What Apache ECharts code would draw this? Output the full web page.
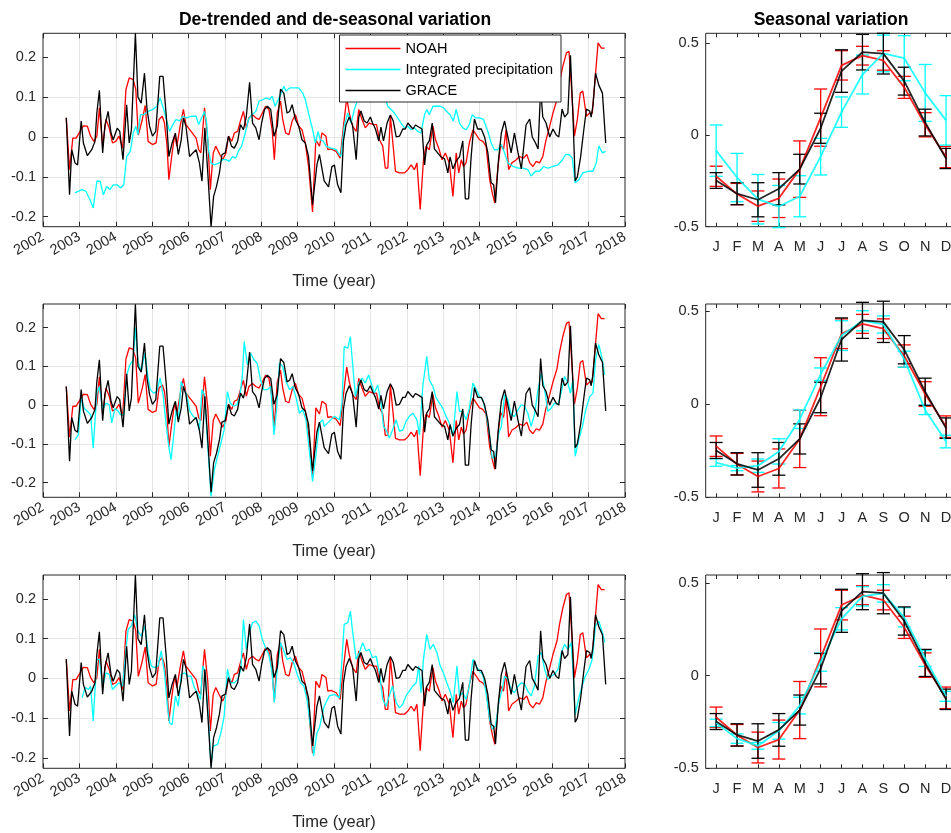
<!DOCTYPE html>
<html>
<head>
<meta charset="utf-8">
<script src="https://cdn.jsdelivr.net/npm/echarts@6/dist/echarts.min.js"></script>
<style>
  html, body { margin: 0; padding: 0; background: #fff; }
  #chart { width: 951px; height: 833px; }
</style>
</head>
<body>
<div id="chart"></div>
<script>
// ---- Time series (decimal year, anomaly) ----
const yearTicks = [2002, 2003, 2004, 2005, 2006, 2007, 2008, 2009, 2010, 2011, 2012, 2013, 2014, 2015, 2016, 2017, 2018];

const graceSeries = [
  [2002.64,0.048],[2002.73,-0.145],[2002.79,-0.032],[2002.88,-0.065],[2002.95,-0.07],[2003.05,0.04],[2003.11,-0.015],
  [2003.22,-0.047],[2003.34,-0.032],[2003.43,-0.011],[2003.48,0.06],[2003.55,0.117],[2003.64,-0.04],[2003.70,0.027],
  [2003.79,0.064],[2003.87,0.01],[2003.93,-0.007],[2004.04,0.022],[2004.11,0.014],[2004.20,-0.057],[2004.30,0.081],
  [2004.37,-0.015],[2004.43,0.018],[2004.54,0.26],[2004.61,0.10],[2004.70,0.085],[2004.79,0.16],[2004.86,0.069],
  [2004.93,0.027],[2005.01,0.002],[2005.10,0.014],[2005.21,0.152],[2005.30,0.152],[2005.39,0.052],[2005.46,-0.049],
  [2005.55,-0.015],[2005.64,0.01],[2005.72,-0.044],[2005.80,-0.007],[2005.86,0.048],[2005.93,0.027],[2006.03,-0.049],
  [2006.12,-0.04],[2006.21,-0.032],[2006.30,-0.065],[2006.37,-0.111],[2006.45,0.023],[2006.53,-0.09],[2006.62,-0.225],
  [2006.69,-0.149],[2006.77,-0.124],[2006.85,-0.09],[2006.92,-0.044],[2007.01,-0.04],[2007.10,0.002],[2007.18,-0.023],
  [2007.26,-0.028],[2007.35,-0.011],[2007.43,0.031],[2007.51,0.018],[2007.59,0.052],[2007.68,0.137],[2007.76,0.035],
  [2007.85,0.023],[2007.94,-0.007],[2008.01,0.035],[2008.09,0.069],[2008.17,0.077],[2008.26,0.069],[2008.35,0.002],
  [2008.44,0.027],[2008.53,0.12],[2008.62,0.11],[2008.71,0.06],[2008.78,0.064],[2008.85,0.081],[2008.94,0.044],
  [2009.03,0.027],[2009.12,-0.007],[2009.21,-0.015],[2009.30,-0.049],[2009.41,-0.17],[2009.53,-0.07],[2009.60,-0.044],
  [2009.73,-0.11],[2009.85,-0.125],[2009.94,-0.075],[2010.01,-0.07],[2010.10,-0.12],[2010.19,-0.14],[2010.26,-0.01],
  [2010.33,0.03],[2010.42,0.05],[2010.51,0.03],[2010.61,-0.057],[2010.68,0.05],[2010.74,0.065],[2010.83,0.04],
  [2010.91,0.035],[2011.00,0.05],[2011.06,0.035],[2011.14,0.02],[2011.23,-0.01],[2011.29,0.025],[2011.36,-0.01],
  [2011.46,0.035],[2011.55,0.055],[2011.63,0.04],[2011.71,0.0],[2011.80,0.002],[2011.89,0.02],[2011.96,0.02],
  [2012.03,0.035],[2012.07,0.03],[2012.17,0.02],[2012.24,0.03],[2012.33,0.025],[2012.42,0.02],[2012.49,-0.07],
  [2012.55,-0.02],[2012.62,-0.01],[2012.70,0.035],[2012.76,-0.03],[2012.85,-0.04],[2012.94,-0.05],[2013.04,-0.055],
  [2013.13,-0.09],[2013.19,-0.05],[2013.27,-0.08],[2013.36,-0.06],[2013.45,-0.05],[2013.54,-0.01],[2013.61,-0.155],
  [2013.70,-0.155],[2013.77,-0.05],[2013.86,0.045],[2013.95,0.02],[2014.05,0.02],[2014.14,0.0],[2014.23,-0.04],
  [2014.32,-0.115],[2014.39,-0.12],[2014.44,-0.165],[2014.52,-0.06],[2014.60,0.01],[2014.69,0.04],[2014.78,0.0],
  [2014.87,-0.04],[2014.96,0.01],[2015.06,-0.04],[2015.15,-0.08],[2015.21,-0.03],[2015.28,0.03],[2015.38,0.045],
  [2015.45,0.0],[2015.54,-0.015],[2015.61,-0.03],[2015.68,0.12],[2015.74,0.05],[2015.83,0.035],[2015.93,0.0],
  [2016.02,0.02],[2016.11,0.005],[2016.18,0.0],[2016.27,0.07],[2016.34,0.05],[2016.43,0.06],[2016.50,0.205],
  [2016.57,0.05],[2016.63,-0.11],[2016.69,-0.1],[2016.78,-0.05],[2016.87,0.02],[2016.94,0.07],[2017.03,0.065],
  [2017.07,0.05],[2017.12,0.08],[2017.19,0.16],[2017.28,0.13],[2017.38,0.11],[2017.47,-0.015]
];

const noahSeries = [
  [2002.64,0.048],[2002.73,-0.082],[2002.82,-0.003],[2002.91,-0.003],[2003.02,0.014],[2003.11,0.028],[2003.22,0.027],
  [2003.31,0.002],[2003.40,-0.011],[2003.48,0.002],[2003.55,0.073],[2003.64,-0.023],[2003.73,0.044],[2003.82,0.023],
  [2003.91,-0.015],[2004.00,-0.011],[2004.09,0.002],[2004.19,-0.028],[2004.28,0.119],[2004.37,0.148],[2004.48,0.144],
  [2004.55,0.12],[2004.62,0.005],[2004.72,0.04],[2004.81,0.079],[2004.89,-0.011],[2005.01,-0.019],[2005.11,-0.015],
  [2005.19,0.044],[2005.28,0.052],[2005.34,0.035],[2005.41,-0.023],[2005.46,-0.107],[2005.55,-0.04],[2005.62,0.006],
  [2005.68,-0.023],[2005.77,0.027],[2005.86,0.069],[2005.93,0.031],[2006.07,0.014],[2006.21,-0.003],[2006.28,-0.032],
  [2006.34,-0.04],[2006.44,0.073],[2006.53,-0.007],[2006.60,-0.132],[2006.68,-0.04],[2006.75,-0.023],[2006.86,-0.044],
  [2006.94,-0.057],[2007.03,-0.04],[2007.10,0.002],[2007.19,-0.011],[2007.26,0.01],[2007.35,0.014],[2007.44,0.044],
  [2007.51,0.064],[2007.59,0.023],[2007.66,0.048],[2007.76,0.056],[2007.85,0.048],[2007.94,0.044],[2008.03,0.06],
  [2008.12,0.077],[2008.21,0.069],[2008.30,0.018],[2008.36,-0.057],[2008.44,0.06],[2008.53,0.09],[2008.59,0.044],
  [2008.67,0.01],[2008.76,0.006],[2008.85,0.04],[2008.94,0.056],[2009.03,0.027],[2009.12,0.018],[2009.21,-0.015],
  [2009.30,-0.074],[2009.41,-0.188],[2009.50,-0.007],[2009.60,-0.023],[2009.67,0.01],[2009.78,0.002],[2009.83,-0.032],
  [2009.92,-0.03],[2010.06,-0.036],[2010.17,-0.053],[2010.26,0.027],[2010.35,0.098],[2010.42,0.06],[2010.51,0.027],
  [2010.61,0.014],[2010.68,0.069],[2010.77,0.044],[2010.86,0.023],[2010.97,0.035],[2011.08,0.031],[2011.17,0.031],
  [2011.25,-0.007],[2011.34,-0.023],[2011.41,-0.078],[2011.48,-0.078],[2011.55,0.052],[2011.61,-0.007],[2011.69,-0.086],
  [2011.80,-0.09],[2011.94,-0.09],[2012.03,-0.082],[2012.12,-0.07],[2012.21,-0.082],[2012.28,-0.065],[2012.37,-0.182],
  [2012.46,-0.057],[2012.53,-0.023],[2012.62,-0.032],[2012.72,0.027],[2012.79,-0.007],[2012.88,-0.028],[2012.97,-0.057],
  [2013.06,-0.04],[2013.17,-0.065],[2013.27,-0.149],[2013.36,-0.04],[2013.43,-0.09],[2013.50,-0.057],[2013.56,-0.074],
  [2013.63,-0.065],[2013.72,-0.015],[2013.82,0.018],[2013.91,0.006],[2014.00,-0.007],[2014.09,-0.011],[2014.18,-0.023],
  [2014.28,-0.107],[2014.35,-0.14],[2014.42,-0.166],[2014.50,-0.082],[2014.58,-0.019],[2014.66,-0.032],[2014.73,0.018],
  [2014.80,-0.082],[2014.89,-0.065],[2015.01,-0.057],[2015.10,-0.049],[2015.21,-0.053],[2015.30,-0.044],[2015.38,-0.065],
  [2015.47,-0.074],[2015.56,-0.061],[2015.65,-0.065],[2015.74,-0.049],[2015.82,-0.011],[2015.93,0.027],[2016.02,0.06],
  [2016.13,0.094],[2016.20,0.136],[2016.29,0.177],[2016.39,0.211],[2016.46,0.215],[2016.52,0.136],[2016.61,0.002],
  [2016.69,0.044],[2016.77,0.11],[2016.84,0.115],[2016.94,0.052],[2017.03,0.06],[2017.10,0.06],[2017.17,0.136],
  [2017.26,0.236],[2017.35,0.223],[2017.44,0.223]
];

const precipSeries1 = [
  [2002.88,-0.14],[2003.07,-0.132],[2003.18,-0.136],[2003.29,-0.157],[2003.38,-0.178],[2003.48,-0.111],[2003.57,-0.111],
  [2003.66,-0.145],[2003.75,-0.124],[2003.84,-0.132],[2003.93,-0.12],[2004.04,-0.12],[2004.13,-0.128],[2004.22,-0.12],
  [2004.30,-0.049],[2004.40,-0.036],[2004.48,0.01],[2004.55,0.027],[2004.61,0.006],[2004.68,0.056],[2004.77,0.056],
  [2004.89,0.064],[2005.02,0.069],[2005.13,0.077],[2005.22,0.098],[2005.32,0.069],[2005.39,0.044],[2005.48,0.014],
  [2005.57,0.031],[2005.66,0.044],[2005.75,0.04],[2005.84,0.052],[2005.95,0.048],[2006.07,0.052],[2006.21,0.052],
  [2006.28,0.031],[2006.34,0.044],[2006.44,0.064],[2006.50,0.035],[2006.55,-0.032],[2006.62,-0.065],[2006.71,-0.07],
  [2006.85,-0.065],[2006.94,-0.057],[2007.03,-0.057],[2007.12,-0.061],[2007.21,-0.049],[2007.30,-0.053],[2007.37,-0.036],
  [2007.46,-0.023],[2007.56,0.01],[2007.65,0.044],[2007.74,0.056],[2007.85,0.064],[2007.94,0.09],[2008.05,0.094],
  [2008.14,0.098],[2008.23,0.094],[2008.30,0.102],[2008.38,0.077],[2008.47,0.094],[2008.53,0.106],[2008.62,0.127],
  [2008.68,0.115],[2008.78,0.123],[2008.89,0.123],[2009.03,0.123],[2009.14,0.11],[2009.21,0.094],[2009.30,0.06],
  [2009.40,0.023],[2009.49,-0.015],[2009.56,0.014],[2009.62,-0.007],[2009.71,-0.011],[2009.78,-0.023],[2009.92,-0.028],
  [2010.06,-0.032],[2010.19,-0.049],[2010.28,0.027],[2010.38,0.06],[2010.47,0.035],[2010.56,0.069],[2010.65,0.094],
  [2010.74,0.11],[2010.83,0.115],[2010.93,0.11],[2011.02,0.106],[2011.11,0.115],[2011.20,0.126],[2011.29,0.098],
  [2011.39,0.102],[2011.48,0.077],[2011.57,0.069],[2011.66,0.06],[2011.75,0.048],[2011.84,0.035],[2011.94,0.023],
  [2012.03,0.027],[2012.12,0.018],[2012.21,0.023],[2012.30,0.014],[2012.39,0.01],[2012.49,0.056],[2012.55,0.069],
  [2012.62,0.056],[2012.72,0.077],[2012.81,0.077],[2012.92,0.077],[2013.01,0.073],[2013.10,0.064],[2013.19,0.056],
  [2013.28,0.04],[2013.36,0.069],[2013.45,0.035],[2013.54,0.023],[2013.63,0.018],[2013.72,0.031],[2013.80,0.056],
  [2013.89,0.048],[2014.00,0.048],[2014.11,0.044],[2014.23,0.014],[2014.32,-0.015],[2014.41,-0.032],[2014.50,-0.032],
  [2014.60,-0.019],[2014.69,-0.04],[2014.78,-0.065],[2014.92,-0.074],[2015.06,-0.078],[2015.19,-0.078],[2015.33,-0.082],
  [2015.42,-0.098],[2015.54,-0.086],[2015.65,-0.086],[2015.76,-0.074],[2015.88,-0.078],[2016.02,-0.074],[2016.16,-0.07],
  [2016.28,-0.057],[2016.37,-0.044],[2016.46,-0.044],[2016.55,-0.053],[2016.63,-0.115],[2016.73,-0.107],[2016.84,-0.09],
  [2016.98,-0.086],[2017.12,-0.086],[2017.21,-0.065],[2017.28,-0.023],[2017.38,-0.04],[2017.47,-0.036]
];

const precipSeries2 = [
  [2002.88,-0.089],[2002.97,-0.077],[2003.05,0.018],[2003.13,-0.008],[2003.22,-0.016],[2003.31,-0.025],[2003.38,-0.111],
  [2003.48,0.031],[2003.55,0.048],[2003.64,-0.012],[2003.73,0.005],[2003.82,0.001],[2003.89,-0.046],[2003.98,-0.008],
  [2004.07,-0.016],[2004.13,-0.025],[2004.22,-0.025],[2004.30,0.078],[2004.39,0.104],[2004.48,0.117],[2004.54,0.2],
  [2004.61,0.113],[2004.70,0.087],[2004.80,0.134],[2004.89,0.07],[2004.95,0.04],[2005.04,0.031],[2005.13,0.035],
  [2005.22,0.07],[2005.30,0.027],[2005.39,-0.055],[2005.46,-0.107],[2005.52,-0.141],[2005.59,-0.081],[2005.66,-0.012],
  [2005.72,-0.038],[2005.80,0.061],[2005.87,0.044],[2005.95,0.027],[2006.04,-0.016],[2006.13,-0.029],[2006.23,-0.038],
  [2006.30,-0.064],[2006.37,0.04],[2006.44,0.027],[2006.53,-0.107],[2006.62,-0.236],[2006.71,-0.167],[2006.80,-0.132],
  [2006.89,-0.098],[2006.98,-0.064],[2007.07,0.035],[2007.15,0.005],[2007.24,-0.003],[2007.33,0.001],[2007.41,0.022],
  [2007.48,0.074],[2007.53,0.164],[2007.62,0.104],[2007.71,0.134],[2007.80,0.117],[2007.89,0.108],[2007.98,0.065],
  [2008.07,0.04],[2008.17,0.04],[2008.26,0.048],[2008.35,-0.077],[2008.42,-0.012],[2008.50,0.108],[2008.59,0.1],
  [2008.68,0.061],[2008.78,0.04],[2008.87,0.048],[2008.96,0.018],[2009.05,-0.021],[2009.14,-0.012],[2009.23,-0.038],
  [2009.32,-0.115],[2009.41,-0.197],[2009.50,-0.132],[2009.60,-0.046],[2009.69,-0.038],[2009.73,-0.055],[2009.87,-0.042],
  [2010.01,-0.029],[2010.15,-0.038],[2010.22,0.005],[2010.28,0.151],[2010.38,0.147],[2010.45,0.177],[2010.51,0.108],
  [2010.59,0.022],[2010.68,0.057],[2010.77,0.07],[2010.86,0.057],[2010.95,0.078],[2011.02,0.057],[2011.11,0.031],
  [2011.20,0.052],[2011.29,0.009],[2011.36,-0.055],[2011.43,-0.064],[2011.52,-0.085],[2011.61,-0.064],[2011.71,-0.038],
  [2011.80,-0.068],[2011.89,-0.064],[2011.98,-0.042],[2012.07,-0.029],[2012.17,-0.021],[2012.28,-0.038],[2012.35,-0.077],
  [2012.44,0.048],[2012.55,0.126],[2012.62,0.065],[2012.72,0.048],[2012.81,0.018],[2012.90,0.005],[2012.99,-0.008],
  [2013.08,-0.029],[2013.17,-0.046],[2013.27,-0.081],[2013.38,0.035],[2013.45,-0.016],[2013.54,-0.016],[2013.63,-0.038],
  [2013.72,-0.008],[2013.82,0.057],[2013.91,0.04],[2014.00,0.022],[2014.09,0.014],[2014.18,-0.021],[2014.28,-0.081],
  [2014.35,-0.137],[2014.44,-0.132],[2014.53,-0.072],[2014.60,-0.055],[2014.69,0.027],[2014.78,0.014],[2014.87,-0.025],
  [2014.96,-0.029],[2015.06,-0.012],[2015.15,0.001],[2015.24,-0.003],[2015.33,-0.021],[2015.42,-0.055],[2015.51,-0.025],
  [2015.61,0.04],[2015.70,0.083],[2015.79,0.04],[2015.88,-0.016],[2015.97,-0.008],[2016.06,0.005],[2016.16,0.001],
  [2016.25,0.035],[2016.34,0.074],[2016.43,0.057],[2016.50,0.031],[2016.57,0.065],[2016.63,-0.132],[2016.73,-0.089],
  [2016.83,-0.055],[2016.92,-0.012],[2017.03,0.022],[2017.12,0.031],[2017.19,0.117],[2017.28,0.156],[2017.38,0.117],
  [2017.44,0.078]
];

const precipSeries3 = [
  [2003.07,-0.049],[2003.16,-0.023],[2003.25,-0.028],[2003.31,-0.019],[2003.38,-0.107],[2003.48,0.048],[2003.55,0.048],
  [2003.64,-0.019],[2003.73,0.014],[2003.82,0.01],[2003.91,-0.028],[2004.00,-0.019],[2004.09,-0.011],[2004.19,-0.019],
  [2004.28,0.073],[2004.34,0.123],[2004.43,0.132],[2004.52,0.16],[2004.61,0.119],[2004.70,0.106],[2004.80,0.132],
  [2004.89,0.065],[2004.98,0.031],[2005.07,0.027],[2005.16,0.031],[2005.25,0.069],[2005.34,0.014],[2005.42,-0.07],
  [2005.48,-0.112],[2005.55,-0.116],[2005.64,-0.044],[2005.72,-0.07],[2005.80,0.01],[2005.89,0.014],[2005.98,0.006],
  [2006.07,0.006],[2006.16,-0.023],[2006.25,-0.036],[2006.33,-0.053],[2006.39,0.031],[2006.46,0.014],[2006.55,-0.103],
  [2006.62,-0.22],[2006.68,-0.17],[2006.80,-0.166],[2006.89,-0.137],[2006.98,-0.095],[2007.07,0.023],[2007.16,-0.011],
  [2007.26,-0.011],[2007.35,-0.003],[2007.44,0.023],[2007.51,0.148],[2007.59,0.073],[2007.66,0.111],[2007.76,0.14],
  [2007.85,0.144],[2007.94,0.132],[2008.03,0.098],[2008.12,0.077],[2008.21,0.06],[2008.30,0.014],[2008.36,-0.061],
  [2008.44,0.023],[2008.53,0.09],[2008.62,0.069],[2008.71,0.048],[2008.80,0.052],[2008.89,0.039],[2008.99,0.01],
  [2009.08,-0.011],[2009.17,-0.019],[2009.26,-0.053],[2009.35,-0.12],[2009.44,-0.195],[2009.53,-0.137],[2009.60,-0.124],
  [2009.73,-0.07],[2009.87,-0.044],[2010.01,-0.04],[2010.15,-0.049],[2010.22,0.048],[2010.28,0.136],[2010.38,0.14],
  [2010.45,0.169],[2010.51,0.119],[2010.61,0.048],[2010.70,0.065],[2010.79,0.09],[2010.88,0.069],[2010.97,0.073],
  [2011.06,0.052],[2011.16,0.056],[2011.25,0.014],[2011.34,-0.053],[2011.43,-0.07],[2011.52,-0.044],[2011.61,-0.019],
  [2011.71,-0.061],[2011.80,-0.074],[2011.89,-0.065],[2011.98,-0.044],[2012.07,-0.032],[2012.17,-0.019],[2012.26,-0.011],
  [2012.33,0.031],[2012.39,-0.036],[2012.46,0.048],[2012.55,0.111],[2012.64,0.073],[2012.73,0.086],[2012.83,0.065],
  [2012.92,0.031],[2013.01,0.014],[2013.10,-0.011],[2013.19,-0.032],[2013.28,-0.061],[2013.38,0.031],[2013.45,-0.044],
  [2013.54,-0.036],[2013.63,-0.053],[2013.72,-0.019],[2013.82,0.048],[2013.91,0.031],[2014.00,0.018],[2014.09,0.01],
  [2014.18,-0.036],[2014.28,-0.103],[2014.35,-0.128],[2014.44,-0.12],[2014.53,-0.061],[2014.62,-0.028],[2014.69,0.006],
  [2014.78,-0.003],[2014.87,-0.028],[2014.96,-0.036],[2015.06,-0.019],[2015.15,-0.011],[2015.24,-0.015],[2015.33,-0.032],
  [2015.42,-0.044],[2015.51,-0.019],[2015.61,0.056],[2015.70,0.065],[2015.79,0.023],[2015.88,-0.003],[2015.97,0.006],
  [2016.06,0.01],[2016.16,0.023],[2016.25,0.065],[2016.34,0.086],[2016.43,0.073],[2016.52,0.09],[2016.57,0.023],
  [2016.63,-0.091],[2016.72,-0.053],[2016.82,-0.019],[2016.91,0.006],[2017.01,0.023],[2017.10,0.048],[2017.19,0.132],
  [2017.28,0.144],[2017.38,0.115],[2017.45,0.09]
];

// ---- Seasonal cycle (monthly mean and error half-width) ----
const months = ['J', 'F', 'M', 'A', 'M', 'J', 'J', 'A', 'S', 'O', 'N', 'D'];
const graceSeasonMean = [-0.248, -0.32, -0.353, -0.293, -0.186, 0.037, 0.349, 0.452, 0.444, 0.294, 0.068, -0.128];
const graceSeasonErr  = [0.043, 0.06, 0.093, 0.088, 0.081, 0.082, 0.116, 0.097, 0.111, 0.076, 0.073, 0.055];
const noahSeasonMean  = [-0.225, -0.322, -0.388, -0.345, -0.186, 0.095, 0.38, 0.433, 0.407, 0.26, 0.056, -0.12];
const noahSeasonErr   = [0.055, 0.058, 0.083, 0.105, 0.154, 0.156, 0.08, 0.051, 0.053, 0.06, 0.066, 0.058];
const precipSeasonMean1 = [-0.085, -0.232, -0.35, -0.39, -0.334, -0.118, 0.125, 0.33, 0.445, 0.419, 0.23, 0.08];
const precipSeasonErr1  = [0.14, 0.132, 0.135, 0.115, 0.112, 0.1, 0.083, 0.106, 0.1, 0.123, 0.155, 0.135];
const precipSeasonMean2 = [-0.313, -0.343, -0.33, -0.253, -0.08, 0.162, 0.37, 0.45, 0.43, 0.243, -0.03, -0.2];
const precipSeasonErr2  = [0.02, 0.014, 0.036, 0.068, 0.05, 0.034, 0.08, 0.054, 0.046, 0.043, 0.025, 0.034];
const precipSeasonMean3 = [-0.255, -0.34, -0.379, -0.298, -0.162, 0.072, 0.306, 0.427, 0.443, 0.314, 0.092, -0.112];
const precipSeasonErr3  = [0.02, 0.025, 0.018, 0.045, 0.045, 0.049, 0.06, 0.052, 0.047, 0.052, 0.043, 0.027];

const anomalyTicks = [-0.2, -0.1, 0, 0.1, 0.2];
const seasonTicks = [-0.5, 0, 0.5];
const monthTicks = [1, 2, 3, 4, 5, 6, 7, 8, 9, 10, 11, 12];

// ---- Styling ----
const FONT = '"Liberation Sans", Arial, Helvetica, sans-serif';
const AXIS_COLOR = '#262626';
const GRID_COLOR = '#e6e6e6';
const RED = '#ff0000', CYAN = '#00ffff', BLACK = '#000000';
const TICK_FONT = 14.5;

const rows = [
  { top: 33.3, height: 193.4, yMin: -0.225, yMax: 0.26,  sMax: 0.555, precip: precipSeries1, pMean: precipSeasonMean1, pErr: precipSeasonErr1 },
  { top: 304,  height: 193.3, yMin: -0.238, yMax: 0.261, sMax: 0.54,  precip: precipSeries2, pMean: precipSeasonMean2, pErr: precipSeasonErr2 },
  { top: 575,  height: 193.3, yMin: -0.226, yMax: 0.26,  sMax: 0.542, precip: precipSeries3, pMean: precipSeasonMean3, pErr: precipSeasonErr3 }
];

function fmtNum(v) {
  if (Math.abs(v) < 1e-9) return '0';
  return String(+v.toFixed(2));
}

function errorBarRenderer(color) {
  return function (params, api) {
    const x = api.value(0);
    const lo = api.coord([x, api.value(1)]);
    const hi = api.coord([x, api.value(2)]);
    const w = 6.5;
    const style = { stroke: color, lineWidth: 1.3, fill: null };
    return {
      type: 'group',
      children: [
        { type: 'line', shape: { x1: lo[0], y1: lo[1], x2: hi[0], y2: hi[1] }, style: style },
        { type: 'line', shape: { x1: hi[0] - w, y1: hi[1], x2: hi[0] + w, y2: hi[1] }, style: style },
        { type: 'line', shape: { x1: lo[0] - w, y1: lo[1], x2: lo[0] + w, y2: lo[1] }, style: style }
      ]
    };
  };
}

// Mirror axis: only inside ticks, used to box the plots on the opposite side
function mirrorAxis(base, position, tickValues) {
  const axis = {
    type: 'value', gridIndex: base.gridIndex, min: base.min, max: base.max, position: position,
    axisLine: { show: false, onZero: false },
    axisTick: { show: true, inside: true, length: base.tickLen, lineStyle: { color: AXIS_COLOR } },
    axisLabel: { show: false },
    splitLine: { show: false }
  };
  if (base.interval) axis.interval = base.interval;
  if (tickValues) axis.axisTick.customValues = tickValues;
  return axis;
}

const grids = [], xAxes = [], yAxes = [], series = [];

rows.forEach(function (row) {
  // Left: de-trended, de-seasonalised anomalies
  const gl = grids.length;
  grids.push({
    left: 43, width: 582, top: row.top, height: row.height,
    show: true, borderColor: AXIS_COLOR, borderWidth: 1, backgroundColor: '#fff',
    outerBoundsMode: 'none', containLabel: false
  });
  const xl = xAxes.length;
  xAxes.push({
    type: 'value', gridIndex: gl, min: yearTicks[0], max: yearTicks[yearTicks.length - 1], interval: 1,
    position: 'bottom',
    axisLine: { show: false, onZero: false },
    axisTick: { show: true, inside: true, length: 5, lineStyle: { color: AXIS_COLOR } },
    axisLabel: { rotate: 30, fontSize: TICK_FONT, fontFamily: FONT, color: AXIS_COLOR, margin: 9,
                 formatter: function (v) { return String(Math.round(v)); } },
    splitLine: { show: true, showMinLine: false, showMaxLine: false, lineStyle: { color: GRID_COLOR, width: 1 } },
    name: 'Time (year)', nameLocation: 'middle', nameGap: 46, nameMoveOverlap: false,
    nameTextStyle: { fontSize: 16.5, fontFamily: FONT, color: AXIS_COLOR }
  });
  xAxes.push(mirrorAxis({ gridIndex: gl, min: yearTicks[0], max: yearTicks[yearTicks.length - 1], interval: 1, tickLen: 5 }, 'top'));
  const yl = yAxes.length;
  yAxes.push({
    type: 'value', gridIndex: gl, min: row.yMin, max: row.yMax, position: 'left',
    axisLine: { show: false, onZero: false },
    axisTick: { show: true, inside: true, length: 5, customValues: anomalyTicks, lineStyle: { color: AXIS_COLOR } },
    axisLabel: { customValues: anomalyTicks, fontSize: TICK_FONT, fontFamily: FONT, color: AXIS_COLOR, margin: 7, formatter: fmtNum },
    splitLine: { show: true, showMinLine: false, showMaxLine: false, lineStyle: { color: GRID_COLOR, width: 1 } }
  });
  yAxes.push(mirrorAxis({ gridIndex: gl, min: row.yMin, max: row.yMax, tickLen: 5 }, 'right', anomalyTicks));
  const lineCommon = { type: 'line', xAxisIndex: xl, yAxisIndex: yl, symbol: 'none', showSymbol: false, animation: false };
  series.push(Object.assign({}, lineCommon, { name: 'NOAH', data: noahSeries, lineStyle: { color: RED, width: 1.3 }, itemStyle: { color: RED } }));
  series.push(Object.assign({}, lineCommon, { name: 'Integrated precipitation', data: row.precip, lineStyle: { color: CYAN, width: 1.3 }, itemStyle: { color: CYAN } }));
  series.push(Object.assign({}, lineCommon, { name: 'GRACE', data: graceSeries, lineStyle: { color: BLACK, width: 1.3 }, itemStyle: { color: BLACK } }));

  // Right: mean seasonal cycle with error bars
  const gr = grids.length;
  grids.push({
    left: 705.7, width: 250.8, top: row.top, height: row.height,
    show: true, borderColor: AXIS_COLOR, borderWidth: 1, backgroundColor: '#fff',
    outerBoundsMode: 'none', containLabel: false
  });
  const xr = xAxes.length;
  xAxes.push({
    type: 'value', gridIndex: gr, min: 0.5, max: 12.5, position: 'bottom',
    axisLine: { show: false, onZero: false },
    axisTick: { show: true, inside: true, length: 4, customValues: monthTicks, lineStyle: { color: AXIS_COLOR } },
    axisLabel: { customValues: monthTicks, fontSize: TICK_FONT, fontFamily: FONT, color: AXIS_COLOR, margin: 13,
                 formatter: function (v) { return months[Math.round(v) - 1]; } },
    splitLine: { show: false }
  });
  xAxes.push(mirrorAxis({ gridIndex: gr, min: 0.5, max: 12.5, tickLen: 4 }, 'top', monthTicks));
  const yr = yAxes.length;
  yAxes.push({
    type: 'value', gridIndex: gr, min: -0.5, max: row.sMax, position: 'left',
    axisLine: { show: false, onZero: false },
    axisTick: { show: true, inside: true, length: 4, customValues: seasonTicks, lineStyle: { color: AXIS_COLOR } },
    axisLabel: { customValues: seasonTicks, fontSize: TICK_FONT, fontFamily: FONT, color: AXIS_COLOR, margin: 7, formatter: fmtNum },
    splitLine: { show: false }
  });

  const seasonal = [
    { name: 'NOAH', color: RED, mean: noahSeasonMean, err: noahSeasonErr },
    { name: 'Integrated precipitation', color: CYAN, mean: row.pMean, err: row.pErr },
    { name: 'GRACE', color: BLACK, mean: graceSeasonMean, err: graceSeasonErr }
  ];
  seasonal.forEach(function (s) {
    series.push({
      type: 'custom', name: s.name + ' range', xAxisIndex: xr, yAxisIndex: yr, animation: false,
      renderItem: errorBarRenderer(s.color),
      encode: { x: 0, y: [1, 2] },
      data: s.mean.map(function (m, i) { return [monthTicks[i], m - s.err[i], m + s.err[i]]; })
    });
    series.push({
      type: 'line', name: s.name, xAxisIndex: xr, yAxisIndex: yr, symbol: 'none', showSymbol: false, animation: false,
      lineStyle: { color: s.color, width: 1.8, opacity: 0.85 }, itemStyle: { color: s.color },
      data: s.mean.map(function (m, i) { return [monthTicks[i], m]; })
    });
  });
});

const chart = echarts.init(document.getElementById('chart'), null, { renderer: 'canvas', width: 951, height: 833 });
chart.setOption({
  animation: false,
  backgroundColor: '#fff',
  textStyle: { fontFamily: FONT },
  title: [
    { text: 'De-trended and de-seasonal variation', left: 335, top: 11, textAlign: 'center', padding: 0,
      textStyle: { fontSize: 17.5, fontWeight: 'bold', color: '#000', fontFamily: FONT } },
    { text: 'Seasonal variation', left: 831, top: 11, textAlign: 'center', padding: 0,
      textStyle: { fontSize: 17.5, fontWeight: 'bold', color: '#000', fontFamily: FONT } }
  ],
  legend: {
    data: ['NOAH', 'Integrated precipitation', 'GRACE'],
    icon: 'rect',
    orient: 'vertical', left: 339.5, top: 35,
    padding: [6, 8, 4, 6], itemWidth: 55, itemHeight: 1.4, itemGap: 6,
    backgroundColor: '#fff', borderColor: AXIS_COLOR, borderWidth: 1, borderRadius: 0,
    selectedMode: false,
    textStyle: { fontSize: TICK_FONT, color: '#000', fontFamily: FONT }
  },
  grid: grids,
  xAxis: xAxes,
  yAxis: yAxes,
  series: series
});
</script>
</body>
</html>
